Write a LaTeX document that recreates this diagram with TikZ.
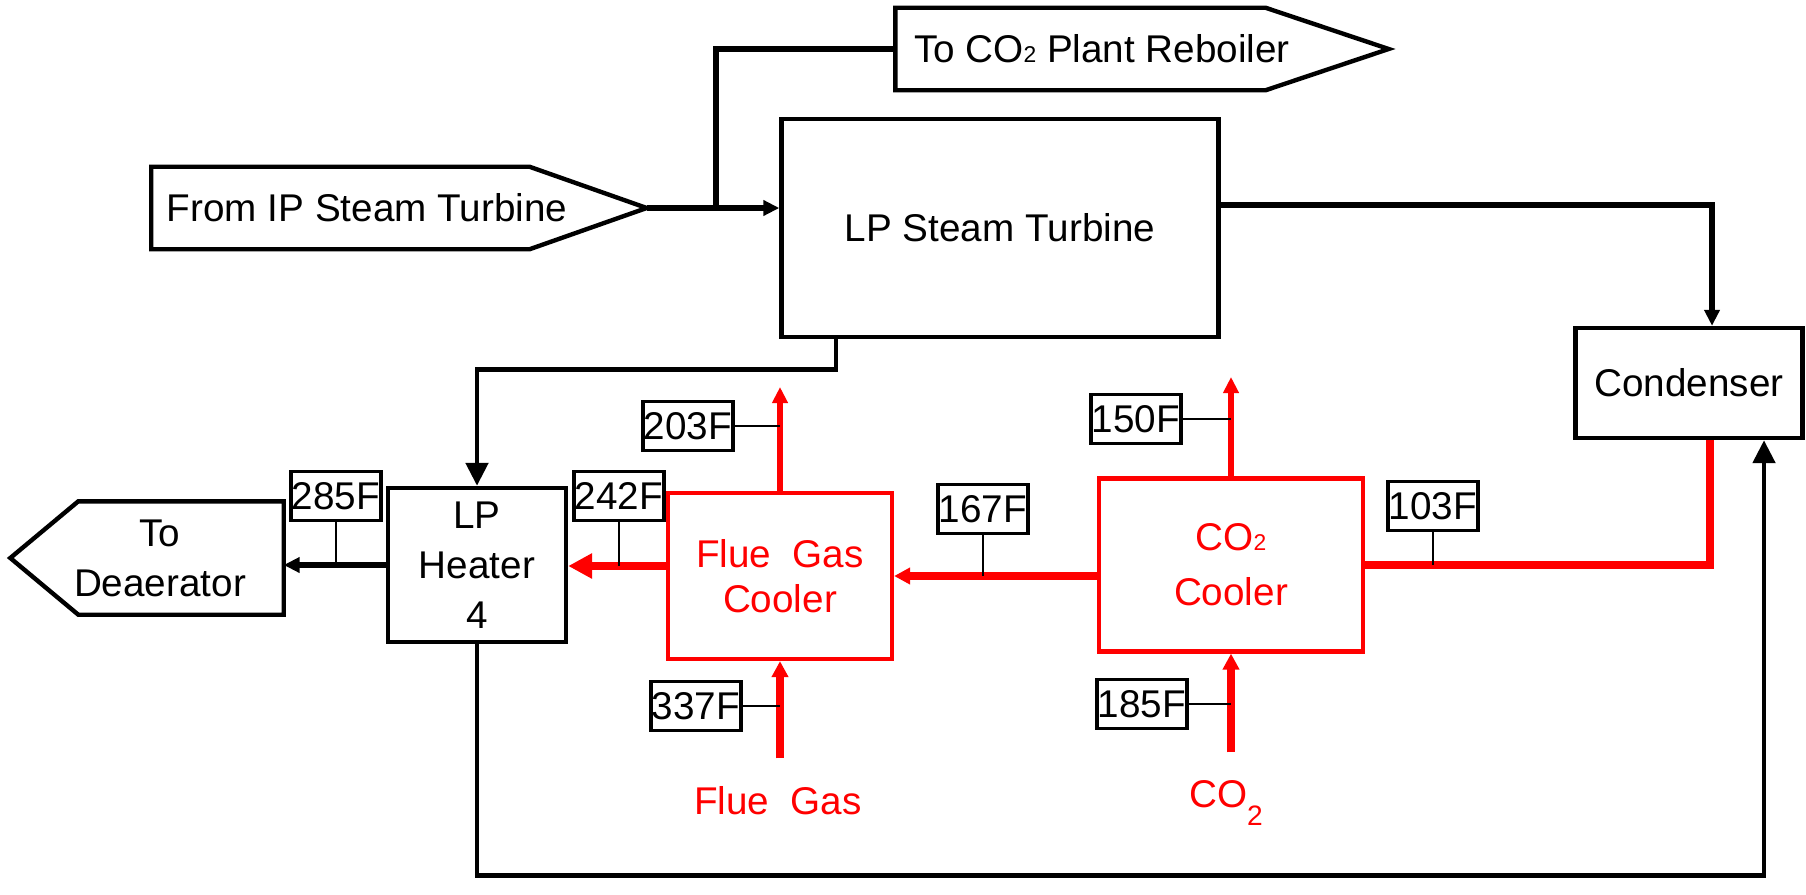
\documentclass[tikz,border=0pt]{standalone}
\usepackage{fontspec}
\setmainfont{Liberation Sans}
\usetikzlibrary{arrows.meta, calc}
\newcommand{\cotwo}{CO{\fontsize{6.5}{7}\selectfont 2}}

\begin{document}
\begin{tikzpicture}[
    x=0.1mm, y=-0.1mm,
    every node/.style={font=\fontsize{11}{13}\selectfont},
    unit/.style={rectangle, draw=black, line width=1.25pt, align=center, inner sep=0pt},
    cooler/.style={rectangle, draw=red, line width=1.2pt, text=red, align=center, inner sep=0pt},
    port/.style={rectangle, inner sep=0pt, align=center},
    portLine/.style={draw=black, line width=1.25pt},
    tag/.style={rectangle, draw=black, line width=0.9pt, inner sep=0pt,
                minimum width=9mm, minimum height=4.9mm},
    inlab/.style={text=red, inner xsep=0pt, inner ysep=2.7mm, anchor=base},
    steam/.style={line width=1.7pt},
    arr/.style={steam, -{Triangle[length=1.6mm, width=1.5mm]}},
    bigArr/.style={line width=1.4pt, -{Triangle[length=2.3mm, width=2.2mm]}},
    hot/.style={red, line width=2.2pt},
    hotArr/.style={hot, -{Triangle[length=1.6mm, width=1.6mm]}},
    hotBig/.style={hot, -{Triangle[length=2.4mm, width=2.4mm]}},
    outArr/.style={red, line width=1.6pt, -{Triangle[length=1.6mm, width=1.5mm]}},
    tick/.style={black, line width=0.7pt},
]
\useasboundingbox (0,0) rectangle (1806,894);

% main units
\node[unit, minimum width=43.7mm, minimum height=21.8mm] (turb) at (1000,228)
    {\raisebox{-1.2mm}{LP Steam Turbine}};
\node[unit, minimum width=22.7mm, minimum height=11mm] (cond) at (1689,383) {Condenser};
\node[unit, minimum width=17.8mm, minimum height=15.4mm,
      font=\fontsize{11}{14.2}\selectfont] (heater) at (477,565) {LP\\Heater\\4};

% off-page ports (outline drawn below)
\node[port, minimum width=49.4mm, minimum height=8.1mm] (ip) at (399,208)
    {From IP Steam Turbine\hspace*{6.4mm}};
\node[port, minimum width=49.2mm, minimum height=8.1mm] (reb) at (1142,49)
    {To \cotwo\ Plant Reboiler\hspace*{8mm}};
\node[port, minimum width=27.2mm, minimum height=11.2mm,
      font=\fontsize{11}{14.2}\selectfont] (dea) at (147,558)
    {\hspace*{2.6mm}To\\\hspace*{2.6mm}Deaerator};

\draw[portLine] (ip.north west) -- ([xshift=-11.7mm]ip.north east) -- (ip.east)
    -- ([xshift=-11.7mm]ip.south east) -- (ip.south west) -- cycle;
\draw[portLine] (reb.north west) -- ([xshift=-12.3mm]reb.north east) -- (reb.east)
    -- ([xshift=-12.3mm]reb.south east) -- (reb.south west) -- cycle;
\draw[portLine] (dea.north east) -- ([xshift=6.8mm]dea.north west) -- (dea.west)
    -- ([xshift=6.8mm]dea.south west) -- (dea.south east) -- cycle;

% coolers
\node[cooler, minimum width=22.4mm, minimum height=16.6mm,
      font=\fontsize{11}{12.8}\selectfont] (fgc) at (780,576) {Flue\ \ Gas\\Cooler};
\node[cooler, minimum width=26.4mm, minimum height=17.3mm,
      font=\fontsize{11}{15.6}\selectfont] (co2c) at (1231,565) {\cotwo\\Cooler};

\node[inlab] (fgin) at (778,814) {Flue\ \ Gas};
\node[inlab] (coin) at (1226,807) {CO\raisebox{-1.8mm}{\fontsize{8}{9}\selectfont 2}};

\coordinate (split) at (716,208);
\coordinate (fgW) at ([yshift=1mm]fgc.west);
\coordinate (fgtop) at (780,387);
\coordinate (cotop) at (1231,377);

% temperatures
\node[tag] (t285) at (336,496) {285F};
\node[tag] (t242) at (619,496) {242F};
\node[tag] (t203) at (688,426) {203F};
\node[tag] (t337) at (696,706) {337F};
\node[tag] (t167) at (983,509) {167F};
\node[tag] (t150) at (1136,419) {150F};
\node[tag] (t185) at (1142,704) {185F};
\node[tag] (t103) at (1433,506) {103F};

% steam / condensate
\draw[arr] (ip.east) -- (ip.east -| turb.west);
\draw[steam] (split) |- (reb.west);
\draw[arr] ([yshift=2.3mm]turb.east) -| ([xshift=2.3mm]cond.north);
\draw[bigArr] ([xshift=-16.4mm]turb.south) -- ++(0,30) -| (heater.north);
\draw[arr] (heater.west) -- (heater.west -| dea.east);
\draw[bigArr] (heater.south) -- ++(0,231) -| ([xshift=7.5mm]cond.south);

% heat recovery
\draw[hot] ([xshift=2.1mm]cond.south) |- (co2c.east);
\draw[hotArr] (co2c.west |- fgc.east) -- (fgc.east);
\draw[hotBig] (fgW) -- (fgW -| heater.east);
\draw[outArr] (fgc.north) -- (fgtop);
\draw[outArr] (co2c.north) -- (cotop);
\draw[hotArr] (fgc.south |- fgin.north) -- (fgc.south);
\draw[hotArr] (co2c.south |- coin.north) -- (co2c.south);

% tag leaders
\draw[tick] (t285.south) -- (t285.south |- heater.west);
\draw[tick] (t242.south) -- (t242.south |- fgW);
\draw[tick] (t203.east) -- (t203.east -| fgc.north);
\draw[tick] (t337.east) -- (t337.east -| fgc.south);
\draw[tick] (t167.south) -- (t167.south |- fgc.east);
\draw[tick] (t150.east) -- (t150.east -| co2c.north);
\draw[tick] (t185.east) -- (t185.east -| co2c.south);
\draw[tick] (t103.south) -- (t103.south |- co2c.east);
\end{tikzpicture}
\end{document}
